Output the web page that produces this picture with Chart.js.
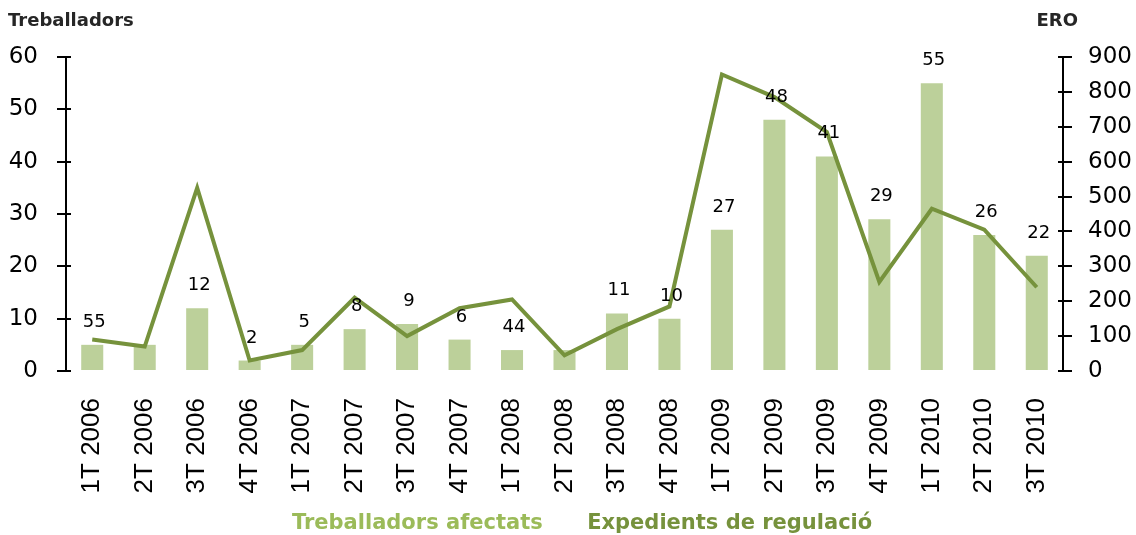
<!DOCTYPE html>
<html>
<head>
<meta charset="utf-8">
<script src="https://cdn.jsdelivr.net/npm/chart.js@4"></script>
<style>
  html, body { margin: 0; padding: 0; background: #fff; }
  #wrap { width: 1136px; height: 535px; }
</style>
</head>
<body>
<div id="wrap"><canvas id="eroChart"></canvas></div>
<script>
const categories = ['1T 2006', '2T 2006', '3T 2006', '4T 2006', '1T 2007', '2T 2007', '3T 2007', '4T 2007',
  '1T 2008', '2T 2008', '3T 2008', '4T 2008', '1T 2009', '2T 2009', '3T 2009', '4T 2009',
  '1T 2010', '2T 2010', '3T 2010'];
const treballadors = [5, 5, 12, 2, 5, 8, 9, 6, 4, 4, 11, 10, 27, 48, 41, 29, 55, 26, 22];
const barLabels = ['55', '', '12', '2', '5', '8', '9', '6', '44', '', '11', '10', '27', '48', '41', '29', '55', '26', '22'];
const expedients = [90, 70, 525, 30, 60, 210, 100, 180, 205, 45, 120, 185, 850, 785, 685, 255, 465, 405, 240];
const leftTicks = [0, 10, 20, 30, 40, 50, 60];
const rightTicks = [0, 100, 200, 300, 400, 500, 600, 700, 800, 900];

const barColor = '#bcd09a';
const lineColor = '#76923c';

// labels above the bars + small tick marks crossing the axes + axis titles
const extras = {
  id: 'extras',
  afterDatasetsDraw(chart) {
    const ctx = chart.ctx;
    const meta = chart.getDatasetMeta(0);
    ctx.save();
    ctx.font = '18px "DejaVu Sans"';
    ctx.fillStyle = '#000';
    ctx.textAlign = 'center';
    ctx.textBaseline = 'alphabetic';
    meta.data.forEach((bar, i) => {
      if (barLabels[i]) ctx.fillText(barLabels[i], bar.x + 2, bar.y - 18);
    });
    ctx.restore();
  },
  afterDraw(chart) {
    const ctx = chart.ctx;
    ctx.save();
    ctx.strokeStyle = '#000';
    ctx.lineWidth = 2;
    const yl = chart.scales.y, yr = chart.scales.y1;
    leftTicks.forEach(v => {
      const py = Math.round(yl.getPixelForValue(v));
      ctx.beginPath(); ctx.moveTo(yl.right, py); ctx.lineTo(yl.right + 5, py); ctx.stroke();
    });
    rightTicks.forEach(v => {
      const py = Math.round(yr.getPixelForValue(v));
      ctx.beginPath(); ctx.moveTo(yr.left - 5, py); ctx.lineTo(yr.left, py); ctx.stroke();
    });
    ctx.font = 'bold 18px "DejaVu Sans"';
    ctx.fillStyle = '#262626';
    ctx.textBaseline = 'middle';
    ctx.textAlign = 'left';
    ctx.fillText('Treballadors', 8, 21);
    ctx.textAlign = 'right';
    ctx.fillText('ERO', 1078, 21);
    ctx.restore();
  }
};

document.addEventListener('DOMContentLoaded', () => {
  const ctx = document.getElementById('eroChart').getContext('2d');
  new Chart(ctx, {
    data: {
      labels: categories,
      datasets: [{
        type: 'bar',
        label: 'Treballadors afectats',
        data: treballadors,
        backgroundColor: barColor,
        yAxisID: 'y',
        categoryPercentage: 1,
        barPercentage: 0.42,
        order: 1
      }, {
        type: 'line',
        label: 'Expedients de regulació',
        data: expedients,
        borderColor: lineColor,
        borderWidth: 4,
        pointRadius: 0,
        tension: 0,
        fill: false,
        yAxisID: 'y1',
        order: 0
      }]
    },
    options: {
      responsive: true,
      maintainAspectRatio: false,
      animation: false,
      layout: { padding: { left: 8, right: 0, top: 57, bottom: -9 } },
      plugins: {
        tooltip: { enabled: false },
        legend: {
          position: 'bottom',
          fullSize: false,
          labels: {
            boxWidth: 32,
            boxHeight: 0,
            padding: 2,
            font: { family: '"DejaVu Sans"', size: 21, weight: 'bold' },
            generateLabels: () => [
              { text: 'Treballadors afectats', fontColor: '#9bbb59', fillStyle: 'rgba(0,0,0,0)', strokeStyle: 'rgba(0,0,0,0)', lineWidth: 0, datasetIndex: 0 },
              { text: 'Expedients de regulació ', fontColor: lineColor, fillStyle: 'rgba(0,0,0,0)', strokeStyle: 'rgba(0,0,0,0)', lineWidth: 0, datasetIndex: 1 }
            ]
          }
        }
      },
      scales: {
        x: {
          grid: { display: false, drawTicks: false },
          border: { display: false },
          afterFit: (scale) => { scale.height = 140; },
          ticks: {
            autoSkip: false,
            maxRotation: 90,
            minRotation: 90,
            padding: 27,
            color: '#000',
            font: { family: '"Liberation Sans"', size: 26 }
          }
        },
        y: {
          position: 'left',
          min: 0,
          max: 60,
          afterFit: (scale) => { scale.width = 58; },
          grid: { drawOnChartArea: false, tickLength: 9, color: '#000', lineWidth: 2 },
          border: { display: true, color: '#000', width: 2 },
          ticks: {
            stepSize: 10,
            padding: 19,
            color: '#000',
            font: { family: '"DejaVu Sans"', size: 23 }
          }
        },
        y1: {
          position: 'right',
          min: 0,
          max: 900,
          afterFit: (scale) => { scale.width = 73; },
          grid: { drawOnChartArea: false, tickLength: 9, color: '#000', lineWidth: 2 },
          border: { display: true, color: '#000', width: 2 },
          ticks: {
            stepSize: 100,
            padding: 16,
            color: '#000',
            font: { family: '"DejaVu Sans"', size: 23 }
          }
        }
      }
    },
    plugins: [extras]
  });
});
</script>
</body>
</html>
